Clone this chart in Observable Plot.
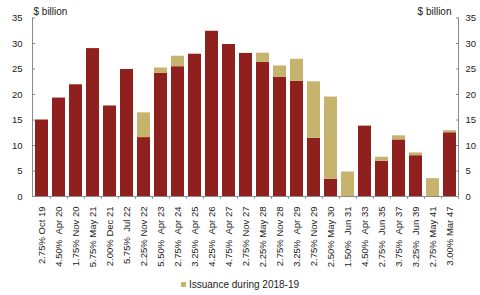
<!DOCTYPE html>
<html>
<head>
<meta charset="utf-8">
<script src="https://cdn.jsdelivr.net/npm/d3@7"></script>
<script src="https://cdn.jsdelivr.net/npm/@observablehq/plot@0.6"></script>
<style>
  html, body { margin: 0; padding: 0; background: #fff; }
  body { width: 480px; height: 295px; overflow: hidden; font-family: "Liberation Sans", Arial, sans-serif; }
  #legend { text-align: center; font-size: 10px; color: #222; padding-top: 7px; line-height: 12px; }
  #legend .sw { display: inline-block; width: 5px; height: 5px; background: #c6b36d; margin-right: 3px; vertical-align: 1px; }
</style>
</head>
<body>
<div id="chart"></div>
<div id="legend"><span class="sw"></span>Issuance during 2018-19</div>
<script>
const bonds = [
  "2.75% Oct 19", "4.50%\u00a0\u00a0Apr 20", "1.75% Nov 20", "5.75% May 21", "2.00% Dec 21",
  "5.75%\u00a0\u00a0Jul 22", "2.25% Nov 22", "5.50%\u00a0\u00a0Apr 23", "2.75%\u00a0\u00a0Apr 24", "3.25%\u00a0\u00a0Apr 25",
  "4.25%\u00a0\u00a0Apr 26", "4.75%\u00a0\u00a0Apr 27", "2.75% Nov 27", "2.25% May 28", "2.75% Nov 28",
  "3.25%\u00a0\u00a0Apr 29", "2.75% Nov 29", "2.50% May 30", "1.50%\u00a0\u00a0Jun 31", "4.50%\u00a0\u00a0Apr 33",
  "2.75%\u00a0\u00a0Jun 35", "3.75%\u00a0\u00a0Apr 37", "3.25%\u00a0\u00a0Jun 39", "2.75% May 41", "3.00% Mar 47"
];
const existing = [15, 19.3, 21.9, 29, 17.75, 24.9, 11.55, 24.15, 25.45, 27.9, 32.4, 29.8, 28.05, 26.3, 23.4, 22.6, 11.4, 3.4, 0, 13.8, 6.9, 11.1, 8.0, 0, 12.5];
const issuance = [0, 0, 0, 0, 0, 0, 4.85, 1.05, 2.05, 0, 0, 0, 0, 1.8, 2.2, 4.3, 11.1, 16.1, 4.8, 0, 0.8, 0.8, 0.55, 3.5, 0.4];
const yTicks = [0, 5, 10, 15, 20, 25, 30, 35];
const seriesNames = ["Existing", "Issuance during 2018-19"];
const seriesColors = ["#8f201e", "#c6b36d"];

const rows = [];
bonds.forEach((b, i) => {
  rows.push({bond: b, series: seriesNames[0], value: existing[i]});
  rows.push({bond: b, series: seriesNames[1], value: issuance[i]});
});

const W = 480, H = 272, mL = 32, mR = 22, mT = 17.5, mB = 76;
const pIn = 0.25, pOut = 0.13;
const step = (W - mL - mR) / (bonds.length - pIn + 2 * pOut);

const chart = Plot.plot({
  width: W, height: H,
  marginLeft: mL, marginRight: mR, marginTop: mT, marginBottom: mB,
  style: {fontFamily: "'Liberation Sans', Arial, sans-serif", fontSize: "9.5px", color: "#222", background: "#fff"},
  x: {type: "band", domain: bonds, paddingInner: pIn, paddingOuter: pOut, label: null},
  y: {domain: [0, 35], label: null},
  color: {domain: seriesNames, range: seriesColors},
  marks: [
    Plot.barY(rows, Plot.stackY({x: "bond", y: "value", fill: "series", order: seriesNames})),
    Plot.frame({anchor: "left", stroke: "#8a8a8a"}),
    Plot.frame({anchor: "right", stroke: "#8a8a8a"}),
    Plot.frame({anchor: "bottom", stroke: "#8a8a8a"}),
    Plot.axisY(yTicks, {anchor: "left", tickSize: -3, stroke: "#8a8a8a", tickFormat: () => ""}),
    Plot.axisY(yTicks, {anchor: "right", tickSize: -3, stroke: "#8a8a8a", tickFormat: () => ""}),
    Plot.axisY(yTicks, {anchor: "left", tickSize: 0, tickPadding: 10, fill: "#222"}),
    Plot.axisY(yTicks, {anchor: "right", tickSize: 0, tickPadding: 7, fill: "#222"}),
    Plot.axisX({tickSize: 3, stroke: "#9a9a9a", dx: step / 2, tickFormat: () => ""}),
    Plot.axisX({tickSize: 0, tickPadding: 10, tickRotate: -90, fill: "#222"}),
    Plot.text(["$ billion"], {frameAnchor: "top-left", dx: 1, dy: -10, textAnchor: "start", fontSize: 10, fill: "#222"}),
    Plot.text(["$ billion"], {frameAnchor: "top-right", dx: -7, dy: -10, textAnchor: "end", fontSize: 10, fill: "#222"})
  ]
});
document.getElementById("chart").appendChild(chart);
</script>
</body>
</html>
